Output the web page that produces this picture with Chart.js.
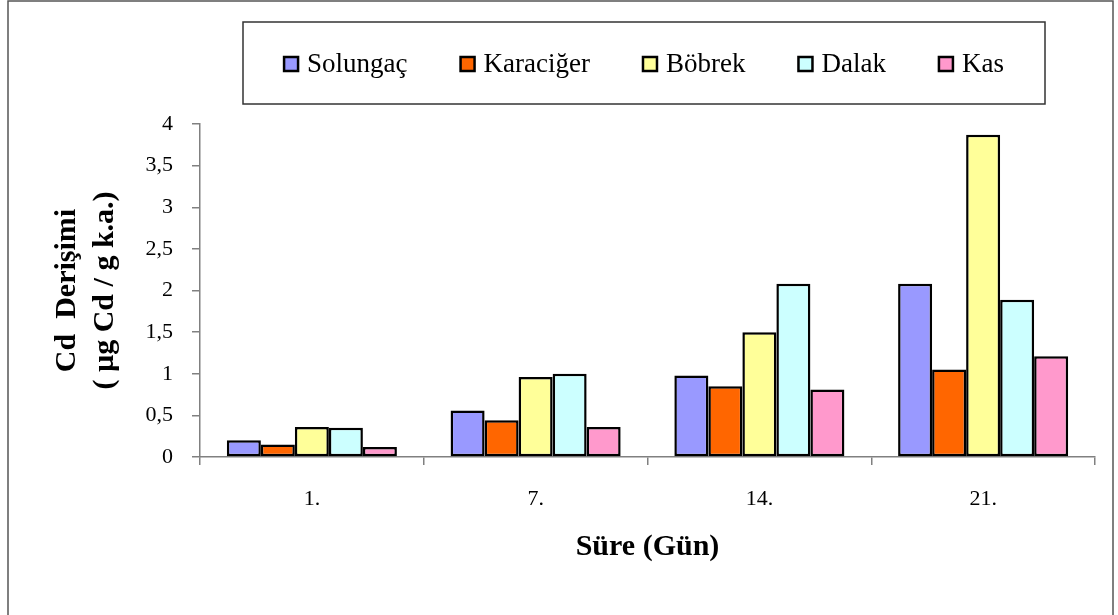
<!DOCTYPE html>
<html>
<head>
<meta charset="utf-8">
<script src="https://cdn.jsdelivr.net/npm/chart.js@4"></script>
<style>
  body { margin: 0; background: #fff; }
  canvas { display: block; }
</style>
</head>
<body>
<canvas id="cdChart" width="1118" height="615"></canvas>
<script>
'use strict';

let days = ['1.', '7.', '14.', '21.'];
let solungac = [0.20, 0.56, 0.98, 2.08];
let karaciger = [0.15, 0.44, 0.85, 1.05];
let bobrek = [0.36, 0.96, 1.50, 3.87];
let dalak = [0.35, 1.00, 2.08, 1.89];
let kas = [0.12, 0.36, 0.81, 1.21];
let yTicks = [0, 0.5, 1, 1.5, 2, 2.5, 3, 3.5, 4];

let serif = '"Liberation Serif", "Times New Roman", serif';
let axisGray = '#808080';

function makeSet (label, data, color) {
  return {
    label: label,
    data: data,
    backgroundColor: color,
    borderColor: '#000',
    borderWidth: 2.5,
    borderSkipped: false,
    categoryPercentage: 0.76,
    barPercentage: 1
  };
}

// frame round the picture and the boxed legend on top
let decorations = {
  id: 'decorations',
  afterDraw (chart) {
    let c = chart.ctx;
    c.save();
    c.strokeStyle = '#555';
    c.lineWidth = 1.5;
    c.strokeRect(8, 1, 1105, 640);

    c.strokeStyle = '#333';
    c.strokeRect(243, 22, 802, 82);

    c.font = '27px ' + serif;
    c.textBaseline = 'middle';
    let box = 14, gap = 9, space = 53;
    let sets = chart.data.datasets;
    let total = 0;
    sets.forEach((ds, i) => {
      total += box + gap + c.measureText(ds.label).width;
      if (i < sets.length - 1) total += space;
    });
    let x = 644 - total / 2;
    let y = 64;
    sets.forEach(ds => {
      c.fillStyle = ds.backgroundColor;
      c.fillRect(x, y - box / 2, box, box);
      c.strokeStyle = '#000';
      c.lineWidth = 2.5;
      c.strokeRect(x, y - box / 2, box, box);
      c.fillStyle = '#000';
      c.fillText(ds.label, x + box + gap, y + 1);
      x += box + gap + c.measureText(ds.label).width + space;
    });
    c.restore();
  }
};

let ctx = document.getElementById('cdChart').getContext('2d');

let chart = new Chart(ctx, {
  type: 'bar',
  data: {
    labels: days,
    datasets: [
      makeSet('Solungaç', solungac, '#9999FF'),
      makeSet('Karaciğer', karaciger, '#FF6600'),
      makeSet('Böbrek', bobrek, '#FFFF99'),
      makeSet('Dalak', dalak, '#CCFFFF'),
      makeSet('Kas', kas, '#FF99CC')
    ]
  },
  options: {
    responsive: false,
    animation: false,
    layout: { padding: { top: 124, right: 23, bottom: 0, left: 0 } },
    plugins: {
      legend: { display: false },
      tooltip: { enabled: false }
    },
    scales: {
      x: {
        afterFit: scale => { scale.height = 158; },
        border: { color: axisGray, width: 1.5 },
        grid: {
          offset: true,
          drawOnChartArea: false,
          drawTicks: true,
          tickLength: 8,
          color: axisGray,
          lineWidth: 1.5
        },
        ticks: {
          color: '#000',
          padding: 21,
          maxRotation: 0,
          font: { family: serif, size: 22 }
        },
        title: {
          display: true,
          text: 'Süre (Gün)',
          color: '#000',
          padding: { top: 0, bottom: 50 },
          font: { family: serif, size: 30, weight: 'bold', lineHeight: 1.2 }
        }
      },
      y: {
        min: 0,
        max: 4,
        afterFit: scale => { scale.width = 200; },
        afterBuildTicks: scale => {
          scale.ticks = yTicks.map(v => ({ value: v }));
        },
        border: { color: axisGray, width: 1.5 },
        grid: {
          drawOnChartArea: false,
          drawTicks: true,
          tickLength: 8,
          color: axisGray,
          lineWidth: 1.5
        },
        ticks: {
          color: '#000',
          padding: 19,
          font: { family: serif, size: 22 },
          callback: v => String(v).replace('.', ',')
        },
        title: {
          display: true,
          text: ['Cd  Derişimi', '( µg Cd / g k.a.)'],
          color: '#000',
          padding: { top: 48, bottom: 0 },
          font: { family: serif, size: 30, weight: 'bold', lineHeight: 1.27 }
        }
      }
    }
  },
  plugins: [decorations]
});
</script>
</body>
</html>
